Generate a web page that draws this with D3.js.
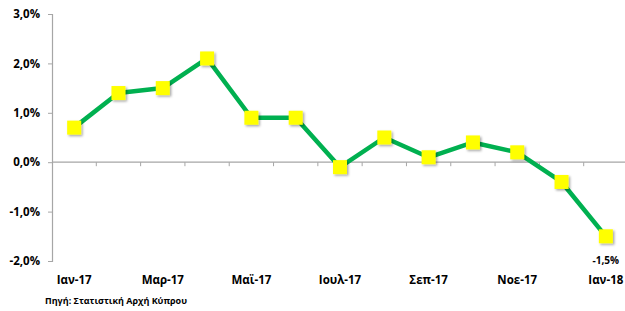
<!DOCTYPE html>
<html>
<head>
<meta charset="utf-8">
<script src="https://cdn.jsdelivr.net/npm/d3@7"></script>
<style>
  body { margin: 0; background: #fff; }
  text { font-family: "Open Sans", "Liberation Sans", sans-serif; font-weight: bold; fill: #000; }
</style>
</head>
<body>
<div id="canvas"></div>
<script>
const months = ["Ιαν-17", "Φεβ-17", "Μαρ-17", "Απρ-17", "Μαϊ-17", "Ιουν-17", "Ιουλ-17",
  "Αυγ-17", "Σεπ-17", "Οκτ-17", "Νοε-17", "Δεκ-17", "Ιαν-18"];
const values = [0.7, 1.4, 1.5, 2.1, 0.9, 0.9, -0.1, 0.5, 0.1, 0.4, 0.2, -0.4, -1.5];
const yTicks = [-2, -1, 0, 1, 2, 3];
const shownLabels = ["Ιαν-17", "Μαρ-17", "Μαϊ-17", "Ιουλ-17", "Σεπ-17", "Νοε-17", "Ιαν-18"];

const dims = { width: 625, height: 311 };
const plot = { left: 52, right: 628, top: 14, bottom: 261 };

// comma decimals, plain hyphen for minus
const locale = d3.formatLocale({ decimal: ",", thousands: ".", grouping: [3], currency: ["", "€"], minus: "-" });
const fmt = v => locale.format(".1f")(v) + "%";

const svg = d3.select("#canvas")
  .append("svg")
  .attr("width", dims.width)
  .attr("height", dims.height);

const defs = svg.append("defs");
const shadow = defs.append("filter").attr("id", "shadow")
  .attr("x", "-50%").attr("y", "-50%").attr("width", "200%").attr("height", "200%");
shadow.append("feDropShadow")
  .attr("dx", 1.5).attr("dy", 1.5).attr("stdDeviation", 1)
  .attr("flood-color", "#000").attr("flood-opacity", 0.35);

const xScale = d3.scaleBand().domain(months).range([plot.left, plot.right]);
const yScale = d3.scaleLinear().domain([-2, 3]).range([plot.bottom, plot.top]);

// y axis
const yAxis = d3.axisLeft(yScale).tickValues(yTicks).tickSize(4).tickPadding(8).tickFormat(fmt);
const yAxisGroup = svg.append("g").attr("transform", `translate(${plot.left},0)`).call(yAxis);
yAxisGroup.select(".domain").attr("stroke", "#a6a6a6").attr("stroke-width", 1.2);
yAxisGroup.selectAll(".tick line").attr("stroke", "#a6a6a6");
yAxisGroup.selectAll("text").attr("font-size", 11.5).style("font-family", "'Open Sans', sans-serif");

// zero line with category ticks
const zeroY = yScale(0);
svg.append("line")
  .attr("x1", plot.left).attr("x2", plot.right)
  .attr("y1", zeroY).attr("y2", zeroY)
  .attr("stroke", "#a6a6a6").attr("stroke-width", 1.2);
svg.selectAll(".cattick")
  .data(months)
  .enter().append("line")
  .attr("class", "cattick")
  .attr("x1", d => xScale(d) + xScale.bandwidth())
  .attr("x2", d => xScale(d) + xScale.bandwidth())
  .attr("y1", zeroY).attr("y2", zeroY + 4)
  .attr("stroke", "#a6a6a6");

// category labels
svg.selectAll(".xlabel")
  .data(shownLabels)
  .enter().append("text")
  .attr("class", "xlabel")
  .attr("x", d => xScale(d) + xScale.bandwidth() / 2)
  .attr("y", 284)
  .attr("text-anchor", "middle")
  .attr("font-size", 11.5)
  .text(d => d);

// line
const lineGen = d3.line()
  .x((d, i) => xScale(months[i]) + xScale.bandwidth() / 2)
  .y(d => yScale(d));

svg.append("path")
  .datum(values)
  .attr("fill", "none")
  .attr("stroke", "#00b050")
  .attr("stroke-width", 4.5)
  .attr("stroke-linejoin", "round")
  .attr("d", lineGen);

// markers
const size = 14;
svg.selectAll(".marker")
  .data(values)
  .enter().append("rect")
  .attr("class", "marker")
  .attr("x", (d, i) => xScale(months[i]) + xScale.bandwidth() / 2 - size / 2)
  .attr("y", d => yScale(d) - size / 2)
  .attr("width", size)
  .attr("height", size)
  .attr("fill", "#ffff00")
  .attr("filter", "url(#shadow)");

// last value label
const last = values.length - 1;
svg.append("text")
  .attr("x", xScale(months[last]) + xScale.bandwidth() / 2)
  .attr("y", yScale(values[last]) + 28)
  .attr("text-anchor", "middle")
  .attr("font-size", 10)
  .text(fmt(values[last]));

// source
svg.append("text")
  .attr("x", 45)
  .attr("y", 304)
  .attr("font-size", 9)
  .text("Πηγή: Στατιστική Αρχή Κύπρου");
</script>
</body>
</html>
